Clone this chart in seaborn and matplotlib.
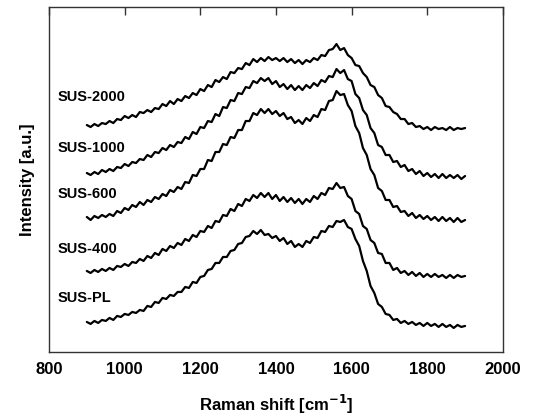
import seaborn as sns
import matplotlib.pyplot as plt
import numpy as np
import pandas as pd

# Raman shift axis, one reading every 10 cm-1
shift = list(range(900, 1901, 10))

sus_2000 = [227, 225, 228, 226, 229, 228, 231, 229, 233, 232,
            236, 234, 237, 235, 240, 239, 242, 240, 244, 243,
            248, 246, 251, 248, 253, 251, 256, 254, 259, 257,
            263, 261, 267, 265, 272, 270, 275, 273, 280, 279,
            284, 283, 289, 287, 293, 290, 294, 291, 295, 292,
            294, 291, 294, 290, 293, 289, 292, 288, 292, 290,
            294, 292, 297, 296, 302, 303, 308, 302, 304, 297,
            294, 287, 286, 279, 275, 267, 265, 257, 254, 246,
            245, 240, 238, 233, 233, 228, 229, 225, 226, 223,
            225, 222, 225, 223, 224, 222, 225, 222, 224, 223,
            224]

sus_1000 = [179, 177, 180, 178, 182, 180, 183, 181, 185, 184,
            188, 186, 190, 189, 193, 192, 197, 195, 200, 199,
            204, 202, 207, 205, 210, 209, 215, 213, 220, 218,
            225, 224, 231, 230, 238, 236, 245, 244, 252, 251,
            259, 258, 265, 264, 271, 269, 274, 271, 274, 268,
            271, 265, 268, 263, 267, 262, 266, 262, 267, 264,
            269, 266, 272, 270, 276, 275, 283, 279, 282, 273,
            271, 258, 254, 242, 237, 224, 219, 207, 205, 197,
            197, 190, 191, 185, 187, 181, 183, 178, 181, 176,
            179, 175, 178, 174, 178, 174, 177, 174, 177, 173,
            176]

sus_600 = [135, 132, 136, 134, 137, 135, 138, 136, 141, 139,
           144, 142, 147, 145, 150, 147, 152, 150, 155, 153,
           158, 156, 162, 160, 165, 163, 170, 169, 177, 176,
           183, 183, 192, 191, 200, 200, 208, 207, 215, 214,
           222, 222, 231, 231, 239, 237, 243, 239, 243, 238,
           241, 236, 239, 233, 235, 229, 232, 228, 234, 231,
           237, 235, 243, 242, 251, 252, 261, 257, 258, 247,
           241, 226, 219, 204, 197, 183, 177, 164, 161, 152,
           152, 145, 146, 140, 141, 136, 139, 134, 137, 133,
           136, 132, 135, 131, 135, 131, 134, 130, 134, 130,
           132]

sus_400 = [81, 79, 82, 80, 83, 81, 84, 82, 86, 85,
           88, 86, 90, 89, 93, 91, 96, 94, 99, 97,
           103, 101, 106, 104, 109, 107, 113, 111, 117, 115,
           121, 120, 126, 124, 131, 130, 137, 136, 143, 141,
           148, 146, 153, 151, 157, 154, 159, 155, 159, 153,
           157, 151, 155, 150, 154, 149, 153, 148, 153, 150,
           156, 153, 159, 157, 164, 163, 169, 164, 165, 156,
           153, 141, 138, 126, 123, 112, 109, 99, 98, 89,
           89, 82, 84, 79, 81, 77, 80, 76, 79, 75,
           78, 75, 78, 75, 77, 74, 77, 74, 77, 75,
           76]

sus_pl = [30, 28, 31, 29, 32, 31, 34, 32, 36, 35,
          38, 37, 40, 39, 42, 41, 46, 45, 50, 49,
          54, 53, 57, 56, 60, 60, 65, 64, 70, 69,
          75, 76, 82, 83, 89, 89, 95, 95, 101, 102,
          108, 109, 115, 116, 121, 118, 122, 117, 118, 114,
          116, 111, 114, 108, 111, 105, 108, 105, 111, 109,
          115, 114, 121, 120, 126, 125, 131, 130, 132, 125,
          123, 113, 106, 91, 81, 66, 59, 48, 45, 38,
          37, 32, 33, 29, 31, 28, 30, 27, 29, 26,
          29, 26, 28, 25, 28, 25, 27, 24, 27, 25,
          26]

names = ["SUS-2000", "SUS-1000", "SUS-600", "SUS-400", "SUS-PL"]
label_y = [255, 204, 158, 103, 54]

sns.set_theme(style="white")
plt.rcParams['font.family'] = ['Liberation Sans', 'DejaVu Sans']
plt.rcParams['font.weight'] = 'bold'
plt.rcParams['text.color'] = 'black'
plt.rcParams['axes.labelcolor'] = 'black'
plt.rcParams['xtick.color'] = 'black'

df = pd.DataFrame({"shift": shift * 5,
                   "intensity": sus_2000 + sus_1000 + sus_600 + sus_400 + sus_pl,
                   "sample": np.repeat(names, len(shift))})

fig = plt.figure(figsize=(5.41, 4.16), dpi=100)
ax = fig.add_axes([0.0906, 0.154, 0.839, 0.829])

sns.lineplot(data=df, x="shift", y="intensity", units="sample", estimator=None,
             color="black", linewidth=1.6, ax=ax)

for n, yy in zip(names, label_y):
    ax.text(824, yy, n, fontsize=10.5, fontweight='bold', va='center', ha='left')

ax.set_xlim(800, 2000)
ax.set_ylim(0, 345)
ax.set_xticks(range(800, 2001, 200))
ax.set_yticks([])
ax.tick_params(axis='x', direction='in', length=6, width=1, top=True,
               labelsize=12, pad=7, color='#333333', labelcolor='black')
for lab in ax.get_xticklabels():
    lab.set_fontweight('bold')
for s in ax.spines.values():
    s.set_color('#333333')
    s.set_linewidth(1)

ax.set_xlabel("Raman shift [cm$^{\\mathbf{-1}}$]", fontsize=12, fontweight='bold', labelpad=12)
ax.set_ylabel("Intensity [a.u.]", fontsize=12, fontweight='bold', labelpad=10)
if ax.get_legend():
    ax.get_legend().remove()

plt.savefig("out.png", dpi=100)
